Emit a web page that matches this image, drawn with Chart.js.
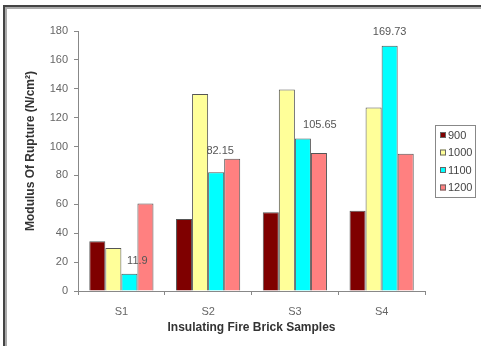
<!DOCTYPE html>
<html>
<head>
<meta charset="utf-8">
<script src="https://cdn.jsdelivr.net/npm/chart.js@4/dist/chart.umd.min.js"></script>
<style>
html,body{margin:0;padding:0;background:#fff;}
#wrap{position:relative;width:481px;height:346px;}
</style>
</head>
<body>
<div id="wrap"><canvas id="c" width="481" height="346"></canvas></div>
<script>
const categories = ['S1', 'S2', 'S3', 'S4'];
const seriesNames = ['900', '1000', '1100', '1200'];
const s900  = [34.5, 49.9, 54.5, 55.6];
const s1000 = [29.8, 136.4, 139.5, 127];
const s1100 = [11.9, 82.15, 105.65, 169.73];
const s1200 = [60.5, 91.5, 95.5, 95];
const labelTexts = ['11.9', '82.15', '105.65', '169.73'];
const yTicks = [0, 20, 40, 60, 80, 100, 120, 140, 160, 180];
const yTitle = 'Modulus Of Rupture (N/cm²)';
const xTitle = 'Insulating Fire Brick Samples';
const colors = ['#7f0000', '#ffff99', '#00ffff', '#ff8080'];
// label placement tweaks relative to bar top (style only)
const labelDx = [8, 4, 17, 0];
const labelDy = [-13, -21, -13, -14];

const FONT = "'Liberation Sans', Arial, sans-serif";

const frame = {
  id: 'frame',
  beforeDraw(chart) {
    const ctx = chart.ctx;
    ctx.save();
    ctx.fillStyle = '#fff';
    ctx.fillRect(0, 0, chart.width, chart.height);
    ctx.fillStyle = '#444';
    ctx.fillRect(3, 5, chart.width - 3, 2);
    ctx.fillRect(3, 5, 2, chart.height - 5);
    ctx.fillStyle = '#aaa';
    ctx.fillRect(5, 7, chart.width - 5, 2);
    ctx.fillRect(5, 7, 2, chart.height - 7);
    ctx.restore();
  },
  afterDatasetsDraw(chart) {
    const ctx = chart.ctx;
    ctx.save();
    // y axis title
    ctx.save();
    ctx.translate(31, 151);
    ctx.rotate(-Math.PI / 2);
    ctx.font = 'bold 12px ' + FONT;
    ctx.fillStyle = '#333';
    ctx.textAlign = 'center';
    ctx.textBaseline = 'middle';
    ctx.fillText(yTitle, 0, 0);
    ctx.restore();
    // data labels for 1100 series
    const meta = chart.getDatasetMeta(2);
    ctx.font = '11px ' + FONT;
    ctx.fillStyle = '#555';
    ctx.textAlign = 'center';
    ctx.textBaseline = 'middle';
    meta.data.forEach((bar, i) => {
      ctx.fillText(labelTexts[i], bar.x + labelDx[i], bar.y + labelDy[i]);
    });
    // legend
    const lx = 435, ly = 125, lw = 40, lh = 72;
    ctx.fillStyle = '#fff';
    ctx.fillRect(lx, ly, lw, lh);
    ctx.strokeStyle = '#888';
    ctx.lineWidth = 1;
    ctx.strokeRect(lx + 0.5, ly + 0.5, lw, lh);
    ctx.textAlign = 'left';
    chart.data.datasets.forEach((ds, i) => {
      const cy = 135 + i * 17.5;
      ctx.fillStyle = ds.backgroundColor;
      ctx.fillRect(440, cy - 3, 6, 6);
      ctx.strokeStyle = '#666';
      ctx.strokeRect(440.5, cy - 2.5, 5, 5);
      ctx.fillStyle = '#444';
      ctx.fillText(ds.label, 448, cy + 0.5);
    });
    ctx.restore();
  }
};

const datasets = [s900, s1000, s1100, s1200].map((d, i) => ({
  label: seriesNames[i],
  data: d,
  backgroundColor: colors[i],
  borderColor: '#555',
  borderWidth: 1,
  categoryPercentage: 0.74,
  barPercentage: 1.0
}));

new Chart(document.getElementById('c'), {
  type: 'bar',
  data: { labels: categories, datasets },
  plugins: [frame],
  options: {
    responsive: false,
    animation: false,
    devicePixelRatio: 1,
    layout: { padding: { left: 0, top: 31, right: 56, bottom: 0 } },
    plugins: { legend: { display: false }, tooltip: { enabled: false } },
    scales: {
      x: {
        grid: { display: true, drawOnChartArea: false, offset: true, tickLength: 4, color: '#888' },
        border: { display: true, color: '#888', width: 1 },
        ticks: { font: { family: FONT, size: 11 }, color: '#666', padding: 10 },
        title: { display: true, text: xTitle, font: { family: FONT, size: 12, weight: 'bold' }, color: '#333', padding: { top: 0, bottom: 11 } },
        afterFit(scale) { scale.height = 55; }
      },
      y: {
        min: 0, max: 180,
        afterBuildTicks(scale) { scale.ticks = yTicks.map(v => ({ value: v })); },
        grid: { display: true, drawOnChartArea: false, tickLength: 4, color: '#888' },
        border: { display: true, color: '#888', width: 1 },
        ticks: { font: { family: FONT, size: 11 }, color: '#666', padding: 6 },
        title: { display: false },
        afterFit(scale) { scale.width = 78; }
      }
    }
  }
});
</script>
</body>
</html>
